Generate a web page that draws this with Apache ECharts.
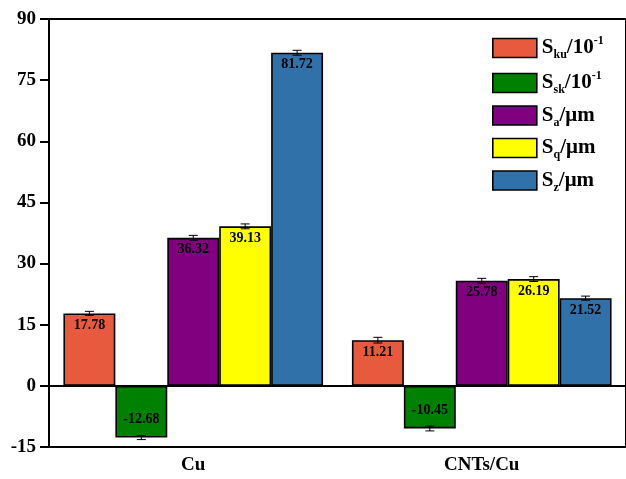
<!DOCTYPE html>
<html>
<head>
<meta charset="utf-8">
<script src="https://cdn.jsdelivr.net/npm/echarts@6/dist/echarts.min.js"></script>
<style>
  html, body { margin: 0; padding: 0; background: #fff; }
  #chart { width: 626px; height: 479px; }
</style>
</head>
<body>
<div id="chart"></div>
<script>
// Surface roughness parameters for bare Cu and CNTs/Cu
const categories = ['Cu', 'CNTs/Cu'];
const yTicks = [-15, 0, 15, 30, 45, 60, 75, 90];

const skuValues = [17.78, 11.21];
const sskValues = [-12.68, -10.45];
const saValues  = [36.32, 25.78];
const sqValues  = [39.13, 26.19];
const szValues  = [81.72, 21.52];

const skuErr = [0.5, 0.7];
const sskErr = [0.5, 0.6];
const saErr  = [0.6, 0.6];
const sqErr  = [0.6, 0.6];
const szErr  = [0.6, 0.5];

const seriesNames = ['Sku', 'Ssk', 'Sa', 'Sq', 'Sz'];
const seriesColors = ['#E85A3D', '#008000', '#800080', '#FFFF00', '#3171A9'];
const seriesValues = [skuValues, sskValues, saValues, sqValues, szValues];
const seriesErrs = [skuErr, sskErr, saErr, sqErr, szErr];

// legend text pieces: subscript, unit, superscript
const legendParts = {
  Sku: ['ku', '/10', '-1'],
  Ssk: ['sk', '/10', '-1'],
  Sa:  ['a', '/\u03bcm', ''],
  Sq:  ['q', '/\u03bcm', ''],
  Sz:  ['z', '/\u03bcm', '']
};

const FONT = 'Liberation Serif';
const CAT_GAP = 0.1;
const N = seriesNames.length;

const barSeries = seriesNames.map(function (name, k) {
  return {
    name: name,
    type: 'bar',
    barGap: '0%',
    barCategoryGap: (CAT_GAP * 100) + '%',
    itemStyle: { color: seriesColors[k], borderColor: '#000', borderWidth: 1.6 },
    data: seriesValues[k].map(function (v) {
      return {
        value: v,
        label: v < 0
          ? { position: 'insideBottom', distance: 11 }
          : { position: 'insideTop', distance: 5 }
      };
    }),
    label: {
      show: true,
      color: '#000',
      fontFamily: FONT,
      fontWeight: 'bold',
      fontSize: 14,
      formatter: function (p) { return p.value.toFixed(2); }
    },
    markLine: k === 0 ? {
      silent: true,
      symbol: 'none',
      label: { show: false },
      lineStyle: { color: '#000', width: 2, type: 'solid' },
      data: [{ yAxis: 0 }]
    } : undefined,
    z: 2
  };
});

// error bars drawn on top of each bar
const errSeries = seriesNames.map(function (name, k) {
  return {
    type: 'custom',
    z: 6,
    silent: true,
    encode: { x: 0, y: 1 },
    renderItem: function (params, api) {
      const cat = api.value(0), v = api.value(1), e = api.value(2);
      const c = api.coord([cat, v]);
      const band = api.size([1, 0])[0];
      const barW = band * (1 - CAT_GAP) / N;
      const x = c[0] + (k - (N - 1) / 2) * barW;
      const hi = api.coord([cat, v + e])[1];
      const lo = api.coord([cat, v - e])[1];
      const cap = 4.5;
      const st = { stroke: '#000', lineWidth: 1 };
      return {
        type: 'group',
        children: [
          { type: 'line', shape: { x1: x, y1: hi, x2: x, y2: lo }, style: st },
          { type: 'line', shape: { x1: x - cap, y1: hi, x2: x + cap, y2: hi }, style: st },
          { type: 'line', shape: { x1: x - cap, y1: lo, x2: x + cap, y2: lo }, style: st }
        ]
      };
    },
    data: categories.map(function (c, i) {
      return [i, seriesValues[k][i], seriesErrs[k][i]];
    })
  };
});

const chart = echarts.init(document.getElementById('chart'), null, { renderer: 'canvas' });

chart.setOption({
  animation: false,
  backgroundColor: '#fff',
  textStyle: { fontFamily: FONT },
  grid: {
    left: 49, top: 19, width: 580, height: 428,
    show: true, borderColor: '#000', borderWidth: 2, backgroundColor: 'transparent'
  },
  legend: {
    orient: 'vertical',
    left: 492,
    top: 35,
    padding: 0,
    itemWidth: 44,
    itemHeight: 19,
    itemGap: 9,
    icon: 'rect',
    data: seriesNames,
    itemStyle: { borderColor: '#000', borderWidth: 1.6 },
    formatter: function (name) {
      const p = legendParts[name];
      let s = '{s|S}{sub|' + p[0] + '}{u|' + p[1] + '}';
      if (p[2]) s += '{sup|' + p[2] + '}';
      return s;
    },
    textStyle: {
      color: '#000',
      rich: {
        s:   { fontFamily: FONT, fontWeight: 'bold', fontSize: 21, color: '#000' },
        sub: { fontFamily: FONT, fontWeight: 'bold', fontSize: 12, color: '#000', padding: [14, 0, 0, 0] },
        u:   { fontFamily: FONT, fontWeight: 'bold', fontSize: 21, color: '#000' },
        sup: { fontFamily: FONT, fontWeight: 'bold', fontSize: 12, color: '#000', padding: [0, 0, 14, 0] }
      }
    }
  },
  xAxis: {
    type: 'category',
    data: categories,
    axisLine: { onZero: false, lineStyle: { color: '#000', width: 2 } },
    axisTick: { alignWithLabel: true, length: 7, lineStyle: { color: '#000', width: 2 } },
    axisLabel: { color: '#000', fontFamily: FONT, fontWeight: 'bold', fontSize: 19, margin: 9 },
    splitLine: { show: false }
  },
  yAxis: {
    type: 'value',
    min: yTicks[0],
    max: yTicks[yTicks.length - 1],
    interval: 15,
    axisLine: { show: true, lineStyle: { color: '#000', width: 2 } },
    axisTick: { show: true, length: 9, lineStyle: { color: '#000', width: 2 } },
    axisLabel: { color: '#000', fontFamily: FONT, fontWeight: 'bold', fontSize: 19, margin: 13 },
    splitLine: { show: false }
  },
  series: barSeries.concat(errSeries)
});
</script>
</body>
</html>
